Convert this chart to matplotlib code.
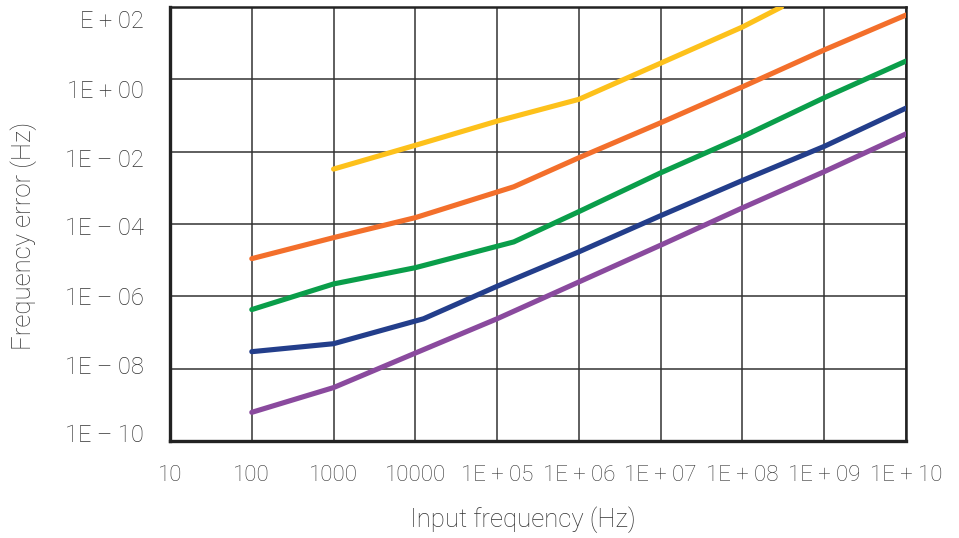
import matplotlib
matplotlib.use("Agg")
import matplotlib.pyplot as plt
import matplotlib.transforms as mtransforms

# ---- data ----
yellow_x = [1e3, 1e4, 1e5, 1e6, 1e7, 1e8, 3e8]
yellow_y = [3.3e-3, 1.5e-2, 7e-2, 0.28, 2.8, 28, 100]

orange_x = [1e2, 1e3, 1e4, 1.6e5, 1e6, 1e7, 1e8, 1e9, 1e10]
orange_y = [1.1e-5, 4.2e-5, 1.5e-4, 1.07e-3, 6.8e-3, 6.3e-2, 0.62, 6.5, 60]

green_x = [1e2, 1e3, 1e4, 1.6e5, 1e6, 1e7, 1e8, 1e9, 1e10]
green_y = [4.3e-7, 2.2e-6, 6.2e-6, 3.2e-5, 2.2e-4, 2.6e-3, 2.6e-2, 0.31, 3.2]

navy_x = [1e2, 1e3, 1.26e4, 1e5, 1e6, 1e7, 1e8, 1e9, 1e10]
navy_y = [2.95e-8, 4.9e-8, 2.4e-7, 1.9e-6, 1.7e-5, 1.7e-4, 1.6e-3, 1.4e-2, 0.16]

purple_x = [1e2, 1e3, 1e4, 1e5, 1e6, 1e7, 1e8, 1e9, 1e10]
purple_y = [6.2e-10, 3e-9, 2.7e-8, 2.4e-7, 2.5e-6, 2.6e-5, 2.8e-4, 2.8e-3, 3.1e-2]

x_ticks = [10, 1e2, 1e3, 1e4, 1e5, 1e6, 1e7, 1e8, 1e9, 1e10]
x_labels = ["10", "100", "1000", "10000", "1E + 05", "1E + 06", "1E + 07",
            "1E + 08", "1E + 09", "1E + 10"]
y_ticks = [1e2, 1e0, 1e-2, 1e-4, 1e-6, 1e-8, 1e-10]
y_labels = ["E + 02", "1E + 00", "1E \u2013 02", "1E \u2013 04", "1E \u2013 06",
            "1E \u2013 08", "1E \u2013 10"]
# label baselines in the original layout (pixels from top); labels are set
# slightly off the gridlines in the source chart
y_label_baselines = [28, 98, 167, 235, 305, 374, 442]

series = [
    (yellow_x, yellow_y, "#FDC11B"),
    (orange_x, orange_y, "#F36F2B"),
    (green_x, green_y, "#0A9E4A"),
    (navy_x, navy_y, "#233E8B"),
    (purple_x, purple_y, "#8A4A9E"),
]

plt.rcParams['font.family'] = ['Roboto', 'DejaVu Sans']
text_color = "#333333"
W, H = 959, 538

fig = plt.figure(figsize=(W/100, H/100), dpi=100)
ax = fig.add_axes([170/W, 1-441/H, (906-170)/W, (441-7)/H])
ax.set_xscale('log')
ax.set_yscale('log')
ax.set_xlim(10, 1e10)
ax.set_ylim(1e-10, 1e2)

for xs, ys, c in series:
    ax.plot(xs, ys, color=c, lw=3.7, solid_capstyle='round', zorder=3)

ax.set_xticks(x_ticks)
ax.set_xticklabels(x_labels, fontsize=16, fontweight='light', color=text_color)
shift = mtransforms.ScaledTranslation(-3/100, 0, fig.dpi_scale_trans)
for lbl in ax.get_xticklabels():
    lbl.set_transform(lbl.get_transform() + shift)
ax.set_yticks(y_ticks)
ax.set_yticklabels([])
ax.minorticks_off()
ax.tick_params(axis='x', length=0, pad=17)
ax.tick_params(axis='y', length=0)

for lab, yb in zip(y_labels, y_label_baselines):
    fig.text(144/W, 1-yb/H, lab, ha='right', va='baseline', fontsize=17,
             fontweight='light', color=text_color)

ax.grid(True, which='major', color='#333333', lw=1.1, zorder=1)

for side in ['left', 'bottom']:
    ax.spines[side].set_linewidth(2.4)
    ax.spines[side].set_color('#222222')
for side in ['top', 'right']:
    ax.spines[side].set_linewidth(1.8)
    ax.spines[side].set_color('#222222')

fig.text(523/W, 1-527/H, "Input frequency (Hz)", ha='center', va='baseline',
         fontsize=18.5, fontweight='light', color=text_color)
fig.text(24/W, 1-236/H, "Frequency error (Hz)", ha='center', va='center',
         rotation=90, fontsize=18.5, fontweight='light', color=text_color)

fig.savefig("out.png", dpi=100)
